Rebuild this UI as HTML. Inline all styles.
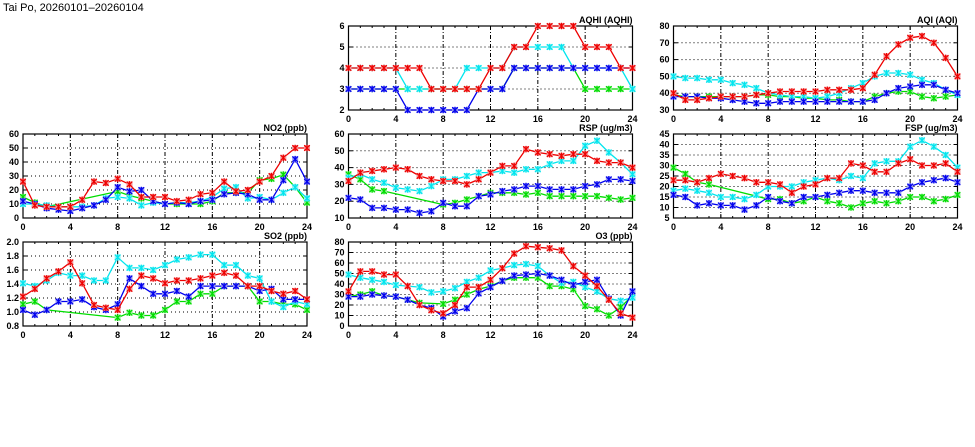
<!DOCTYPE html>
<html><head><meta charset="utf-8">
<style>
html,body{margin:0;padding:0;background:#fff;width:975px;height:447px;overflow:hidden}
svg{display:block}
text{font-family:"Liberation Sans",sans-serif}
</style></head>
<body>
<svg id="chart" width="975" height="447" viewBox="0 0 975 447" xmlns="http://www.w3.org/2000/svg">
<text x="3" y="11" font-size="11" fill="#000">Tai Po, 20260101–20260104</text>
</svg>
<script>
const hours = [0,1,2,3,4,5,6,7,8,9,10,11,12,13,14,15,16,17,18,19,20,21,22,23,24];
const xTicks = [0,4,8,12,16,20,24];
const N = null;

const aqhiTicks = [2,3,4,5,6];
const aqhiRed = [4,4,4,4,4,4,4,3,3,3,3,3,4,4,5,5,6,6,6,6,5,5,5,4,4];
const aqhiCyan = [4,4,4,4,4,3,3,3,3,3,4,4,4,4,5,5,5,5,5,4,4,4,4,4,3];
const aqhiGreen = [3,3,3,3,3,3,3,3,3,3,3,3,3,3,4,4,4,4,4,4,3,3,3,3,3];
const aqhiBlue = [3,3,3,3,3,2,2,2,2,2,2,3,3,3,4,4,4,4,4,4,4,4,4,4,4];

const aqiTicks = [30,40,50,60,70,80];
const aqiRed = [40,36,36,37,38,38,38,39,40,41,41,41,41,42,42,42,43,51,62,69,73,74,70,61,50];
const aqiCyan = [50,49,49,48,48,46,45,43,40,39,38,38,37,38,40,43,46,50,52,52,51,48,46,42,39];
const aqiGreen = [39,38,38,38,38,38,38,39,39,38,38,37,37,36,36,35,35,38,40,41,41,38,37,38,39];
const aqiBlue = [38,38,38,37,37,36,35,34,34,35,35,35,35,35,35,35,35,36,40,43,44,45,45,42,40];

const no2Ticks = [0,10,20,30,40,50,60];
const no2Red = [26,9,8,8,8,13,26,25,28,24,15,15,15,12,13,17,18,26,19,20,26,30,43,50,50];
const no2Cyan = [10,10,9,8,8,8,9,14,15,14,9,11,10,11,11,12,15,21,22,14,15,13,18,22,14];
const no2Green = [15,11,8,N,N,N,N,N,19,16,14,12,10,10,10,10,12,18,18,18,27,28,31,22,11];
const no2Blue = [12,10,7,6,5,7,9,13,22,19,20,12,10,11,10,12,13,17,18,17,13,13,27,42,26];

const rspTicks = [10,20,30,40,50,60];
const rspRed = [32,37,38,39,40,39,35,33,32,32,30,33,37,41,41,51,49,48,47,48,48,44,43,43,40];
const rspCyan = [34,36,33,31,28,27,26,29,33,33,35,37,37,38,37,39,39,42,44,44,53,56,49,43,36];
const rspGreen = [36,33,27,26,N,N,N,N,18,19,21,23,25,25,25,24,25,23,23,23,23,23,22,21,22];
const rspBlue = [22,21,16,16,15,15,13,14,19,17,17,23,24,26,27,29,29,27,27,27,29,30,33,33,32];

const fspTicks = [5,10,15,20,25,30,35,40,45];
const fspRed = [23,23,22,24,26,25,24,22,22,21,17,20,21,24,24,31,30,27,27,31,33,30,30,31,27];
const fspCyan = [18,19,18,17,15,15,14,16,20,20,20,22,23,24,23,25,24,31,32,32,39,42,39,35,29];
const fspGreen = [29,26,22,21,N,N,N,N,14,14,12,13,15,13,12,10,12,13,12,13,15,15,13,14,16];
const fspBlue = [16,15,11,12,11,11,9,11,15,13,12,15,15,16,17,18,18,17,17,17,20,22,23,24,22];

const so2Ticks = [0.8,1.0,1.2,1.4,1.6,1.8,2.0];
const so2Red = [1.22,1.33,1.48,1.58,1.71,1.41,1.10,1.06,1.03,1.33,1.52,1.48,1.41,1.45,1.45,1.48,1.52,1.56,1.52,1.37,1.37,1.30,1.26,1.30,1.18];
const so2Cyan = [1.41,1.37,1.45,1.56,1.52,1.52,1.45,1.45,1.78,1.63,1.63,1.60,1.67,1.75,1.78,1.82,1.82,1.67,1.67,1.52,1.48,1.15,1.07,1.15,1.11];
const so2Green = [1.11,1.15,1.03,N,N,N,N,N,0.92,0.99,0.95,0.95,1.03,1.15,1.15,1.26,1.26,1.37,1.37,1.37,1.15,1.15,1.11,1.11,1.03];
const so2Blue = [1.03,0.96,1.03,1.15,1.15,1.18,1.07,1.03,1.11,1.48,1.37,1.26,1.26,1.30,1.22,1.37,1.37,1.37,1.37,1.37,1.30,1.33,1.18,1.18,1.18];

const o3Ticks = [0,10,20,30,40,50,60,70,80];
const o3Red = [33,52,52,49,49,38,20,15,12,20,37,37,44,55,69,76,75,74,72,57,48,38,25,12,8];
const o3Cyan = [49,46,44,42,39,38,37,32,33,36,42,46,53,55,58,59,57,48,41,42,37,33,26,24,27];
const o3Green = [28,30,33,29,28,25,22,N,21,25,30,35,38,43,46,46,46,38,38,35,19,16,10,18,29];
const o3Blue = [28,28,30,29,28,25,20,17,9,14,17,31,37,43,48,49,50,48,44,39,42,44,26,10,33];

const NS = "http://www.w3.org/2000/svg";
const svg = document.getElementById('chart');
function mk(tag, attrs, parent){
  const e = document.createElementNS(NS, tag);
  for (const k in attrs) e.setAttribute(k, attrs[k]);
  (parent||svg).appendChild(e);
  return e;
}
const W = 284, H = 84;
const colors = {green:['#00dd00','#99ee99'], cyan:['#00e5ee','#99f2f5'], blue:['#0000ee','#9999f0'], red:['#ee0000','#f29999']};

function panel(key, title, x0, y0, ticks, series){
  const g = mk('g', {});
  
  
  const ymin = ticks[0], ymax = ticks[ticks.length-1];
  const sx = h => x0 + h / 24 * W;
  const sy = v => y0 + H - (v - ymin) / (ymax - ymin) * H;
  // horizontal grid
  ticks.forEach(t => {
    const y = sy(t);
    if (t !== ymin && t !== ymax) {
      const l = mk('line', {x1:x0, x2:x0+W, y1:y, y2:y, stroke:'#000', 'stroke-width':1, 'stroke-dasharray':'1,3'}, g);
      
      
    }
    const tx = mk('text', {x:x0-4, y:y+3, 'font-size':9, 'font-weight':'bold', 'text-anchor':'end'}, g);
    
    
    tx.textContent = (ymax <= 2 ? t.toFixed(1) : t);
    mk('line', {x1:x0, x2:x0+4, y1:y, y2:y, stroke:'#000'}, g);
    mk('line', {x1:x0+W-4, x2:x0+W, y1:y, y2:y, stroke:'#000'}, g);
  });
  xTicks.forEach(t => {
    const x = sx(t);
    if (t !== 0 && t !== 24) {
      const l = mk('line', {x1:x, x2:x, y1:y0, y2:y0+H, stroke:'#000', 'stroke-width':1, 'stroke-dasharray':'4,2,1,2'}, g);
      
      
    }
    const tx = mk('text', {x:x, y:y0+H+12, 'font-size':9, 'font-weight':'bold', 'text-anchor':'middle'}, g);
    
    
    tx.textContent = t;
  });
  hours.forEach(h => {
    const x = sx(h);
    const len = h % 4 === 0 ? 4 : 2;
    mk('line', {x1:x, x2:x, y1:y0+H-len, y2:y0+H, stroke:'#000'}, g);
    mk('line', {x1:x, x2:x, y1:y0, y2:y0+len, stroke:'#000'}, g);
  });
  const fr = mk('rect', {x:x0, y:y0, width:W, height:H, fill:'none', stroke:'#000', 'stroke-width':1.2}, g);
  
  
  const tt = mk('text', {x:x0+W, y:y0-3, 'font-size':9, 'font-weight':'bold', 'text-anchor':'end'}, g);
  
  
  tt.textContent = title;
  series.forEach(([cname, vals]) => {
    const [c, light] = colors[cname];
    const pts = [];
    vals.forEach((v, i) => { if (v !== null) pts.push([sx(hours[i]), sy(v)]); });
    const pl = mk('polyline', {points: pts.map(p => p[0].toFixed(1)+','+p[1].toFixed(1)).join(' '), fill:'none', stroke:c, 'stroke-width':1.3}, g);
    
    
    vals.forEach((v, i) => {
      if (v === null) return;
      const px = sx(hours[i]), py = sy(v);
      const m = mk('g', {}, g);
      
      
      mk('rect', {x:px-3, y:py-3, width:6, height:6, fill:light}, m);
      const d = 2.8;
      mk('path', {d:`M${px-d},${py-d}L${px+d},${py+d}M${px-d},${py+d}L${px+d},${py-d}M${px},${py-d-0.5}L${px},${py+d+0.5}`, stroke:c, 'stroke-width':1.2}, m);
    });
  });
}

const cx = [23, 348.5, 673.5], ry = [26, 134, 242];
panel('aqhi', 'AQHI (AQHI)', cx[1], ry[0], aqhiTicks, [['green',aqhiGreen],['cyan',aqhiCyan],['blue',aqhiBlue],['red',aqhiRed]]);
panel('aqi', 'AQI (AQI)', cx[2], ry[0], aqiTicks, [['green',aqiGreen],['cyan',aqiCyan],['blue',aqiBlue],['red',aqiRed]]);
panel('no2', 'NO2 (ppb)', cx[0], ry[1], no2Ticks, [['green',no2Green],['cyan',no2Cyan],['blue',no2Blue],['red',no2Red]]);
panel('rsp', 'RSP (ug/m3)', cx[1], ry[1], rspTicks, [['green',rspGreen],['cyan',rspCyan],['blue',rspBlue],['red',rspRed]]);
panel('fsp', 'FSP (ug/m3)', cx[2], ry[1], fspTicks, [['green',fspGreen],['cyan',fspCyan],['blue',fspBlue],['red',fspRed]]);
panel('so2', 'SO2 (ppb)', cx[0], ry[2], so2Ticks, [['green',so2Green],['cyan',so2Cyan],['blue',so2Blue],['red',so2Red]]);
panel('o3', 'O3 (ppb)', cx[1], ry[2], o3Ticks, [['green',o3Green],['cyan',o3Cyan],['blue',o3Blue],['red',o3Red]]);
</script>
</body></html>
